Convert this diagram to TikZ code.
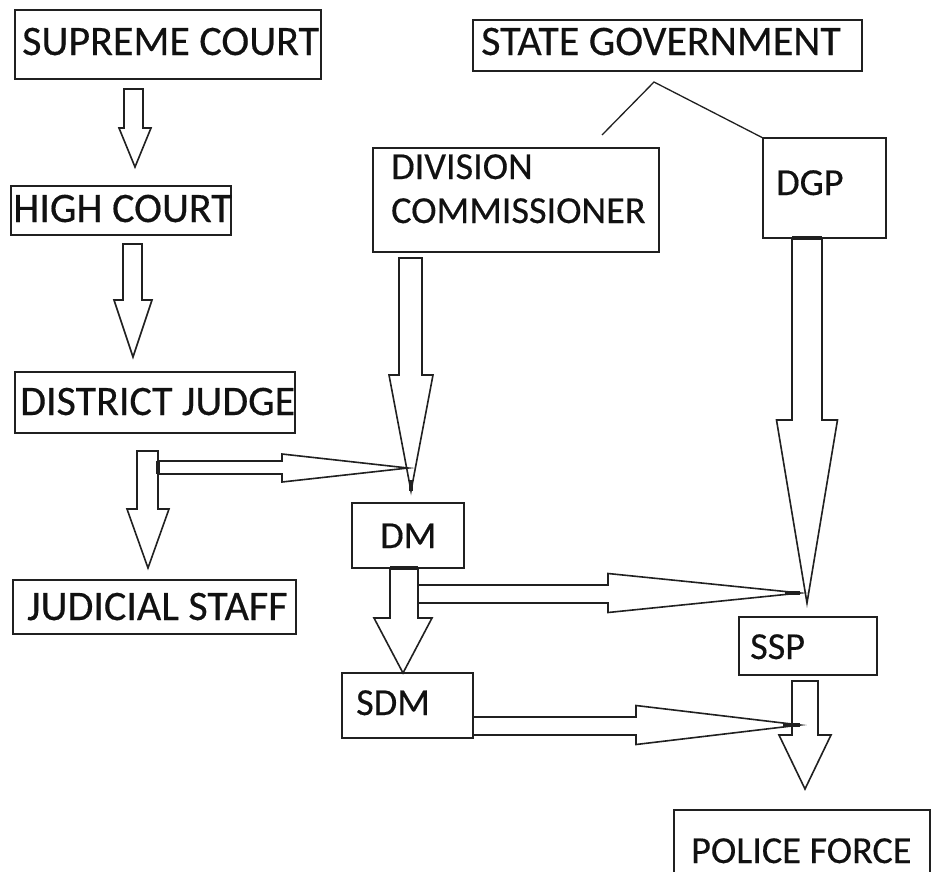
\documentclass[tikz,border=0pt]{standalone}
\usepackage{fontspec}
\setmainfont{Carlito}[FakeBold=0.35]
\usetikzlibrary{calc}
\definecolor{ink}{HTML}{202020}
\definecolor{txt}{HTML}{111111}
\tikzset{
  box/.style={draw=ink, line width=1.8pt, rectangle, inner sep=0pt, outer sep=0pt},
  blk/.style={draw=ink, line width=1.6pt, line join=miter},
  thick mark/.style={draw=ink, line width=3.2pt},
  big/.style={text=txt, inner sep=0pt, anchor=base west, font=\fontsize{42}{50}\selectfont},
  small/.style={text=txt, inner sep=0pt, anchor=base west, font=\fontsize{38.2}{46}\selectfont},
}
% vertical block arrow: tail, tip, shaft half width, head half width, head length
\newcommand\vblk[5]{\draw[blk] let \p1=(#1), \p2=(#2) in
  (\x1-#3pt,\y1) -- (\x1-#3pt,\y2+#5pt) -- (\x2-#4pt,\y2+#5pt) -- (\p2)
  -- (\x2+#4pt,\y2+#5pt) -- (\x1+#3pt,\y2+#5pt) -- (\x1+#3pt,\y1) -- cycle;}
% horizontal block arrow (pointing right)
\newcommand\hblk[5]{\draw[blk] let \p1=(#1), \p2=(#2) in
  (\x1,\y1+#3pt) -- (\x2-#5pt,\y1+#3pt) -- (\x2-#5pt,\y2+#4pt) -- (\p2)
  -- (\x2-#5pt,\y2-#4pt) -- (\x2-#5pt,\y1-#3pt) -- (\x1,\y1-#3pt) -- cycle;}
\begin{document}
\begin{tikzpicture}[x=1pt,y=-1pt]
\useasboundingbox (0,0) rectangle (937,871);
\clip (0,0) rectangle (937,871);
\fill[white] (0,0) rectangle (937,871);

% boxes
\node[box, minimum width=306pt, minimum height=69pt] (sc) at (168,44.5) {};
\node[box, minimum width=220pt, minimum height=49pt] (hc) at (121,210.5) {};
\node[box, minimum width=280pt, minimum height=61pt] (dj) at (155,402.5) {};
\node[box, minimum width=283pt, minimum height=54pt] (js) at (154.5,607) {};
\node[box, minimum width=389pt, minimum height=51pt] (sg) at (667.5,45.5) {};
\node[box, minimum width=286pt, minimum height=104pt] (dc) at (516,200) {};
\node[box, minimum width=123pt, minimum height=100pt] (dgp) at (824.5,188) {};
\node[box, minimum width=112pt, minimum height=65pt] (dm) at (408,535.5) {};
\node[box, minimum width=131pt, minimum height=65pt] (sdm) at (407.5,705.5) {};
\node[box, minimum width=138pt, minimum height=58pt] (ssp) at (808,646) {};
\node[box, minimum width=256pt, minimum height=90pt] (pf) at (802,855) {};

% texts
\node[big] (sct) at (22,55) {SUPREME COURT};
\node[big] (hct) at (13,222) {HIGH COURT};
\node[big] (djt) at (20,415) {DISTRICT JUDGE};
\node[big] (jst) at (27,620) {JUDICIAL STAFF};
\node[big] (sgt) at (481,55) {STATE GOVERNMENT};
\node[small] (dct1) at (391,179) {DIVISION};
\node[small] (dct2) at (391,223) {COMMISSIONER};
\node[small] (dgpt) at (776,195) {DGP};
\node[small] (dmt) at (380,548) {DM};
\node[small] (sdmt) at (356,715) {SDM};
\node[small] (sspt) at (750,659) {SSP};
\node[small] (pft) at (691,863) {POLICE FORCE};

% state government connector
\coordinate (sgapex) at (654,82);
\coordinate (sgleft) at (602,135);
\draw[ink, line width=1.3pt] (sgleft) -- (sgapex) -- (dgp.north west);

% arrow end points
\coordinate (a1t) at (133.5,89);   \coordinate (a1h) at (135,167);
\coordinate (a2t) at (132.5,244);  \coordinate (a2h) at (133,357);
\coordinate (a3t) at (147.5,451);  \coordinate (a3h) at (148,568);
\coordinate (a4t) at (158,467.5);  \coordinate (a4h) at (408,468);
\coordinate (a5t) at (410.5,258);  \coordinate (a5h) at (411,491);
\coordinate (a6t) at (807,238);    \coordinate (a6h) at (807,603);
\coordinate (a7t) at (404,568);    \coordinate (a7h) at (403,673);
\coordinate (a8t) at (418,594);    \coordinate (a8h) at (800,593);
\coordinate (a9t) at (473,726);    \coordinate (a9h) at (800,725);
\coordinate (a10t) at (805,681);   \coordinate (a10h) at (805,789);

% block arrows
\vblk{a1t}{a1h}{9.5}{16}{39}
\vblk{a2t}{a2h}{9.5}{19}{57}
\vblk{a3t}{a3h}{10.5}{21}{59}
\hblk{a4t}{a4h}{6.5}{14}{126}
\vblk{a5t}{a5h}{11.5}{22}{116}
\vblk{a6t}{a6h}{15}{30.5}{183}
\vblk{a7t}{a7h}{14}{29}{55}
\hblk{a8t}{a8h}{9}{19.5}{192}
\hblk{a9t}{a9h}{9}{19.5}{164}
\vblk{a10t}{a10h}{13}{26}{54}

% thick marks
\draw[thick mark] ($(a4t)+(0,-6.5)$) -- ($(a4t)+(0,6.5)$);
\draw[thick mark] ($(a5h)+(0,-11)$) -- (a5h);
\draw[thick mark] ($(a6t)+(-15,0)$) -- ($(a6t)+(15,0)$);
\draw[thick mark] ($(a7t)+(-14,0)$) -- ($(a7t)+(14,0)$);
\draw[thick mark] ($(a8h)+(-15,0)$) -- (a8h);
\draw[thick mark] ($(a9h)+(-17,0)$) -- (a9h);
\end{tikzpicture}
\end{document}
